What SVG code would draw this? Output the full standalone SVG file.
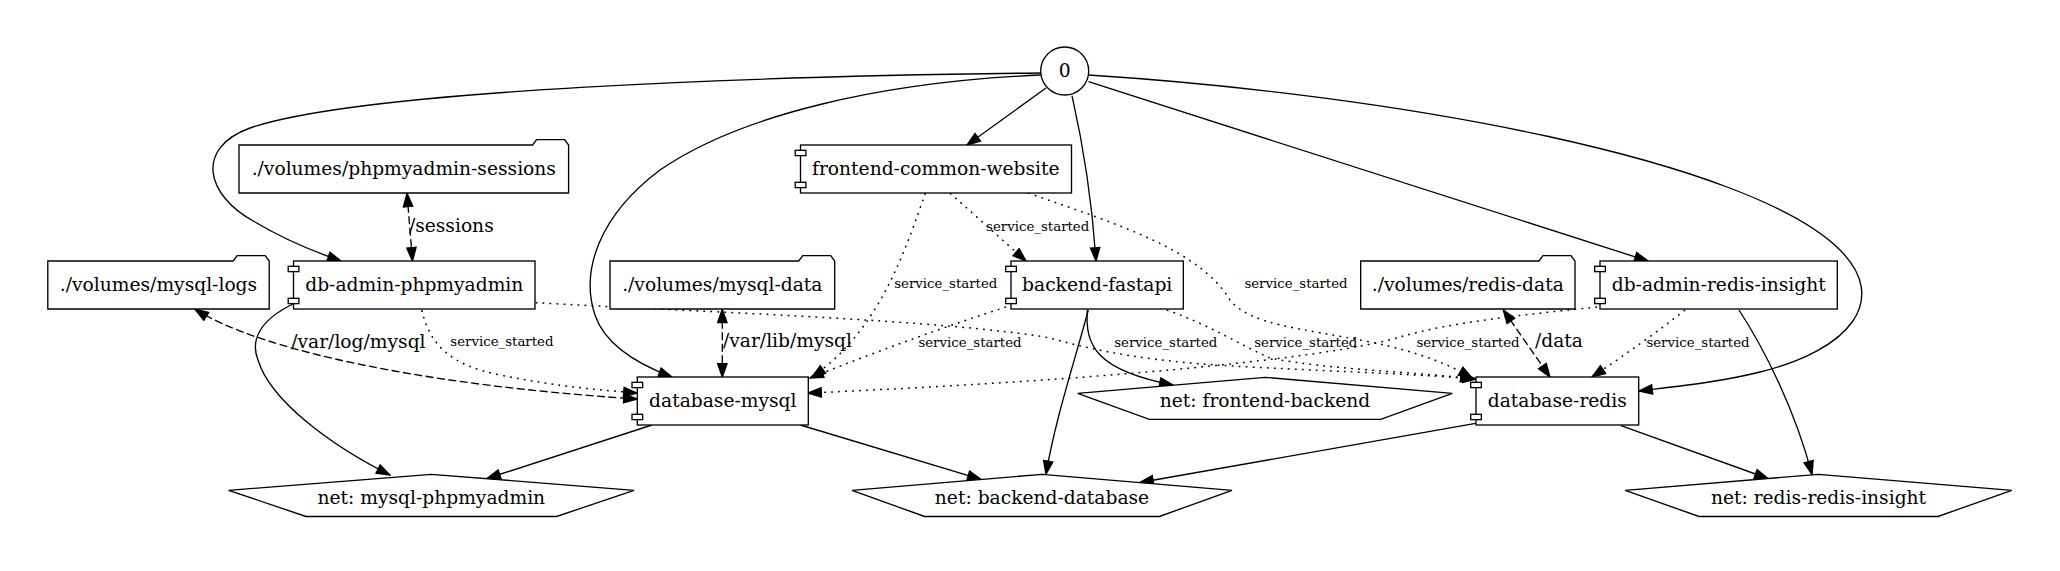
<svg xmlns="http://www.w3.org/2000/svg" width="2060" height="571" viewBox="0 0 2060 571">
<defs>
<marker id="ah" markerUnits="userSpaceOnUse" viewBox="-1 -1 15.3 11.4" markerWidth="15.3" markerHeight="11.4" refX="13.3" refY="4.7" orient="auto">
<path d="M0,0 L13.3,4.7 L0,9.4 Z" fill="#000" stroke="#000" stroke-width="1.33"/>
</marker>
<marker id="as" markerUnits="userSpaceOnUse" viewBox="-1 -1 15.3 11.4" markerWidth="15.3" markerHeight="11.4" refX="13.3" refY="4.7" orient="auto-start-reverse">
<path d="M0,0 L13.3,4.7 L0,9.4 Z" fill="#000" stroke="#000" stroke-width="1.33"/>
</marker>
</defs>
<style>
.n{fill:#fff;stroke:#000;stroke-width:1.33}
.s{fill:#fff;stroke:#000;stroke-width:1.33}
.t{font-family:"DejaVu Serif",serif;font-size:18.67px;text-anchor:middle;fill:#000}
.l{font-family:"DejaVu Serif",serif;font-size:13.33px;text-anchor:middle;fill:#000}
.e{fill:none;stroke:#000;stroke-width:1.33;marker-end:url(#ah)}
.dot{stroke-dasharray:1.8,5.2;stroke-width:1.5}
.dash{stroke-dasharray:8,3.5;marker-start:url(#as);marker-end:url(#as)}
</style>
<rect width="2060" height="571" fill="#fff"/>
<g id="connectors">
<path class="e" d="M1041,73 C760,76 360,90 250,128 C195,148 205,195 255,222 C285,240 315,252 341,261"/>
<path class="e" d="M1041,75 C880,82 740,115 660,170 C600,215 580,270 595,315 C605,345 640,365 672,377"/>
<path class="e" d="M1046,88 L967,145"/>
<path class="e" d="M1072,95.7 C1082,140 1092,200 1096,261"/>
<path class="e" d="M1088.5,81.7 L1648,261"/>
<path class="e" d="M1088.5,75 C1400,95 1750,160 1840,250 C1890,300 1850,350 1760,372 C1720,382 1680,386 1639,391"/>
<path class="e dash" d="M407,193.3 L412.5,261"/>
<text class="t" x="451.3" y="231.7">/sessions</text>
<path class="e dash" d="M195,309.3 C260,350 420,385 637,399"/>
<text class="t" x="358.4" y="348.3">/var/log/mysql</text>
<path class="e dash" d="M722.3,309.3 L722.3,377"/>
<text class="t" x="787.5" y="346.7">/var/lib/mysql</text>
<path class="e dash" d="M1503.3,310 L1550,377"/>
<text class="t" x="1559" y="346.7">/data</text>
<path class="e dot" d="M950,193.3 C975,215 1000,238 1026,261"/>
<text class="l" x="1037.7" y="231">service_started</text>
<path class="e dot" d="M925.4,193.3 C905,250 880,330 812,377"/>
<text class="l" x="945.8" y="288.3">service_started</text>
<path class="e dot" d="M1028,193 C1120,225 1200,250 1230,300 C1250,325 1300,328 1370,342 C1420,352 1450,365 1472,378"/>
<text class="l" x="1296" y="288.3">service_started</text>
<path class="e dot" d="M421.7,310 C430,345 450,365 500,375 C560,387 600,390 637,393"/>
<text class="l" x="501.9" y="346">service_started</text>
<path class="e dot" d="M1006,307 C950,325 880,350 810,378"/>
<text class="l" x="970" y="346.7">service_started</text>
<path class="e dot" d="M535.7,302.7 C700,312 950,320 1050,338 C1100,352 1150,362 1250,367 C1350,372 1430,375 1476,379"/>
<text class="l" x="1165.8" y="346.7">service_started</text>
<path class="e dot" d="M1166.7,310 C1210,325 1240,345 1270,358 C1330,370 1420,372 1474,379"/>
<text class="l" x="1305.8" y="346.7">service_started</text>
<path class="e dot" d="M1597,307 C1530,314 1450,322 1400,337 C1340,355 1150,378 808,393"/>
<text class="l" x="1468" y="346.7">service_started</text>
<path class="e dot" d="M1685,310 C1660,330 1625,355 1592,377"/>
<text class="l" x="1698" y="346.7">service_started</text>
<path class="e" d="M293,304 C260,320 250,340 258,360 C270,400 330,445 390,475"/>
<path class="e" d="M1087.3,310 C1085,345 1095,370 1173,385"/>
<path class="e" d="M1088.3,310 C1075,360 1055,420 1046,474.3"/>
<path class="e" d="M652,425 L487,478.5"/>
<path class="e" d="M800.4,425 L981,479.4"/>
<path class="e" d="M1475.6,423.3 L1140,482.5"/>
<path class="e" d="M1621,425.7 L1768,478.5"/>
<path class="e" d="M1739,310 C1765,350 1795,410 1812,474.5"/>
</g>
<g id="n0"><circle class="n" cx="1064.7" cy="71" r="24"/><text class="t" x="1064.7" y="77">0</text></g>
<g id="frontend-common-website"><rect class="n" x="800.5" y="145" width="271" height="48"/><rect class="s" x="795.2" y="150.3" width="10.67" height="5.33"/><rect class="s" x="795.2" y="182.3" width="10.67" height="5.33"/><text class="t" x="935.8" y="174.5">frontend-common-website</text></g>
<g id="vol-phpmyadmin-sessions"><path class="n" d="M239,145 L532.6,145 L536.6,139.7 L564.6,139.7 L568.6,145 L568.6,193 L239,193 Z"/><text class="t" x="403.8" y="174.5">./volumes/phpmyadmin-sessions</text></g>
<g id="vol-mysql-logs"><path class="n" d="M47.8,261 L233.2,261 L237.2,255.7 L265.2,255.7 L269.2,261 L269.2,309 L47.8,309 Z"/><text class="t" x="158.5" y="290.5">./volumes/mysql-logs</text></g>
<g id="db-admin-phpmyadmin"><rect class="n" x="293.5" y="261" width="241.5" height="48"/><rect class="s" x="288.2" y="266.3" width="10.67" height="5.33"/><rect class="s" x="288.2" y="298.3" width="10.67" height="5.33"/><text class="t" x="414.3" y="290.5">db-admin-phpmyadmin</text></g>
<g id="vol-mysql-data"><path class="n" d="M610,261 L798.7,261 L802.7,255.7 L830.7,255.7 L834.7,261 L834.7,309 L610,309 Z"/><text class="t" x="722.3" y="290.5">./volumes/mysql-data</text></g>
<g id="backend-fastapi"><rect class="n" x="1011" y="261" width="172.3" height="48"/><rect class="s" x="1005.7" y="266.3" width="10.67" height="5.33"/><rect class="s" x="1005.7" y="298.3" width="10.67" height="5.33"/><text class="t" x="1097.2" y="290.5">backend-fastapi</text></g>
<g id="vol-redis-data"><path class="n" d="M1360.7,261 L1539,261 L1543,255.7 L1571,255.7 L1575,261 L1575,309 L1360.7,309 Z"/><text class="t" x="1467.8" y="290.5">./volumes/redis-data</text></g>
<g id="db-admin-redis-insight"><rect class="n" x="1600" y="261" width="237.3" height="48"/><rect class="s" x="1594.7" y="266.3" width="10.67" height="5.33"/><rect class="s" x="1594.7" y="298.3" width="10.67" height="5.33"/><text class="t" x="1718.7" y="290.5">db-admin-redis-insight</text></g>
<g id="database-mysql"><rect class="n" x="637.3" y="377" width="171" height="48"/><rect class="s" x="632" y="382.3" width="10.67" height="5.33"/><rect class="s" x="632" y="414.3" width="10.67" height="5.33"/><text class="t" x="722.8" y="406.5">database-mysql</text></g>
<g id="database-redis"><rect class="n" x="1476" y="377" width="162.7" height="48"/><rect class="s" x="1470.7" y="382.3" width="10.67" height="5.33"/><rect class="s" x="1470.7" y="414.3" width="10.67" height="5.33"/><text class="t" x="1557.3" y="406.5">database-redis</text></g>
<g id="net-frontend-backend"><polygon class="n" points="1265,377.3 1452.3,393.3 1380.7,419.3 1149.3,419.3 1077.7,393.3"/><text class="t" x="1265" y="406.5">net: frontend-backend</text></g>
<g id="net-mysql-phpmyadmin"><polygon class="n" points="431.3,474.3 634,490.3 556.6,516.5 306,516.5 228.6,490.3"/><text class="t" x="431.3" y="503.5">net: mysql-phpmyadmin</text></g>
<g id="net-backend-database"><polygon class="n" points="1042,474.3 1232,490.3 1159.4,516.5 924.6,516.5 852,490.3"/><text class="t" x="1042" y="503.5">net: backend-database</text></g>
<g id="net-redis-redis-insight"><polygon class="n" points="1818.5,474.3 2011.8,490.3 1938,516.5 1699,516.5 1625.2,490.3"/><text class="t" x="1818.5" y="503.5">net: redis-redis-insight</text></g>
</svg>
